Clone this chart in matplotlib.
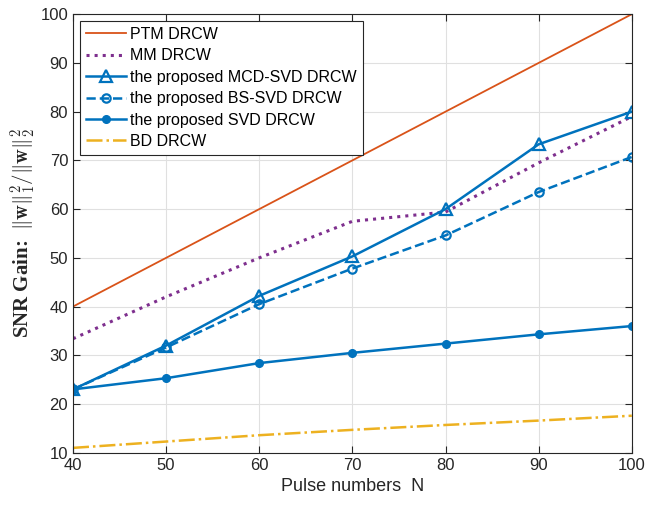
import numpy as np
import matplotlib.pyplot as plt
from matplotlib.ticker import MultipleLocator

plt.rcParams['font.family'] = ['Liberation Sans', 'DejaVu Sans']
plt.rcParams['mathtext.fontset'] = 'cm'

N = [40, 50, 60, 70, 80, 90, 100]
ptm = [40, 50, 60, 70, 80, 90, 100]
mm = [33.4, 42.0, 50.0, 57.5, 59.4, 69.5, 79.0]
mcd_svd = [23.0, 32.0, 42.2, 50.3, 60.0, 73.3, 80.0]
bs_svd = [23.0, 31.6, 40.5, 47.8, 54.6, 63.5, 70.7]
svd = [23.0, 25.3, 28.4, 30.5, 32.4, 34.3, 36.0]
bd = [11.0, 12.3, 13.6, 14.7, 15.7, 16.6, 17.6]

blue = '#0072BD'
fig = plt.figure(figsize=(6.46, 5.07), dpi=100)
ax = fig.add_axes([0.113, 0.107, 0.865, 0.865])

ax.plot(N, ptm, color='#D95319', lw=1.3, label='PTM DRCW')
ax.plot(N, mm, color='#7E2F8E', lw=2.2, ls=':', label='MM DRCW')
ax.plot(N, mcd_svd, color=blue, lw=1.8, marker='^', ms=9, mfc='none', mew=1.6,
        label='the proposed MCD-SVD DRCW')
ax.plot(N, bs_svd, color=blue, lw=1.8, ls='--', marker='o', ms=6, mfc='none', mew=1.6,
        label='the proposed BS-SVD DRCW')
ax.plot(N, svd, color=blue, lw=1.8, marker='o', ms=5.5, label='the proposed SVD DRCW')
ax.plot(N, bd, color='#EDB120', lw=1.8, ls='-.', label='BD DRCW')

ax.set_xlim(40, 100)
ax.set_ylim(10, 100)
ax.xaxis.set_major_locator(MultipleLocator(10))
ax.yaxis.set_major_locator(MultipleLocator(10))
ax.grid(True, color='#e0e0e0', lw=0.8)
ax.set_axisbelow(True)
ax.tick_params(direction='in', length=5, labelsize=12, colors='#262626', top=True, right=True)
for s in ax.spines.values():
    s.set_color('#262626')
    s.set_linewidth(0.8)

ax.set_xlabel('Pulse numbers  N', fontsize=13, color='#262626')
ax.set_ylabel(r'SNR Gain:  $\|\mathbf{w}\|_1^2/\|\mathbf{w}\|_2^2$',
              fontsize=15, labelpad=2, color='#262626',
              fontfamily='Liberation Serif', fontweight='bold')

leg = ax.legend(loc='upper left', fontsize=11.5, fancybox=False, framealpha=1,
                edgecolor='#262626', handlelength=2.5, borderaxespad=0.45,
                labelspacing=0.4, borderpad=0.35, handletextpad=0.3)
leg.get_frame().set_linewidth(0.8)

fig.savefig('out.png', dpi=100)
